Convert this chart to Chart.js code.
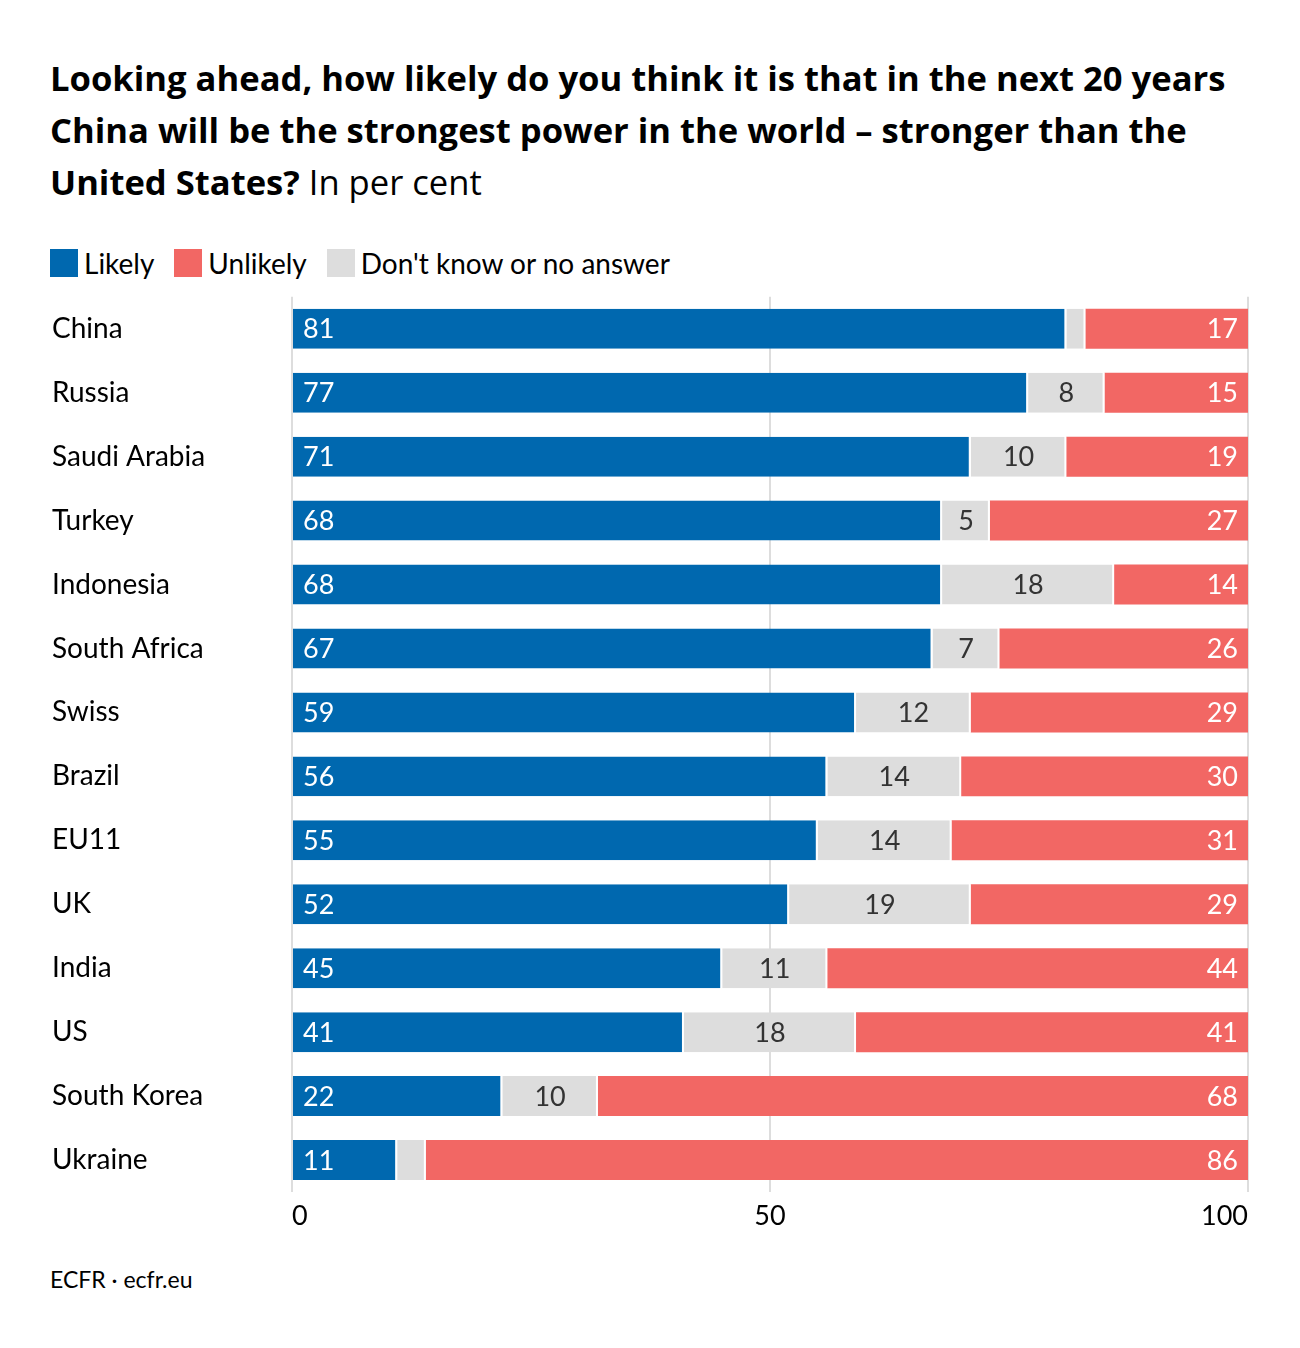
<!DOCTYPE html>
<html>
<head>
<meta charset="utf-8">
<script src="https://cdn.jsdelivr.net/npm/chart.js@4/dist/chart.umd.min.js"></script>
<style>
  body { margin: 0; background: #fff; font-family: Lato, "Open Sans", sans-serif; color: #000; }
  #page { position: relative; width: 1300px; height: 1348px; }
  #title { position: absolute; left: 50px; top: 52px; width: 1240px; font-family: "Open Sans", sans-serif; font-size: 34.6px; line-height: 52px; font-weight: 700; white-space: nowrap; }
  #title span { font-weight: 400; }
  #legend { position: absolute; left: 50px; top: 246px; display: flex; align-items: center; font-size: 28px; }
  #legend .item { display: flex; align-items: center; margin-right: 20px; }
  #legend .box { width: 28px; height: 28px; margin-right: 6px; }
  #wrap { position: absolute; left: 0; top: 280px; width: 1300px; height: 954px; }
  #footer { position: absolute; left: 50px; top: 1265px; font-size: 23px; }
</style>
</head>
<body>
<div id="page">
  <div id="title">Looking ahead, how likely do you think it is that in the next 20 years<br>China will be the strongest power in the world – stronger than the<br>United States? <span>In per cent</span></div>
  <div id="legend"></div>
  <div id="wrap"><canvas id="chart"></canvas></div>
  <div id="footer">ECFR · ecfr.eu</div>
</div>
<script>
const countries = ['China', 'Russia', 'Saudi Arabia', 'Turkey', 'Indonesia', 'South Africa', 'Swiss', 'Brazil', 'EU11', 'UK', 'India', 'US', 'South Korea', 'Ukraine'];
const likely = [81, 77, 71, 68, 68, 67, 59, 56, 55, 52, 45, 41, 22, 11];
const dontKnow = [2, 8, 10, 5, 18, 7, 12, 14, 14, 19, 11, 18, 10, 3];
const unlikely = [17, 15, 19, 27, 14, 26, 29, 30, 31, 29, 44, 41, 68, 86];
const xTicks = [0, 50, 100];

const BLUE = '#0068af';
const RED = '#f26764';
const GREY = '#dddddd';

// legend (order differs from stack order)
const legendItems = [['Likely', BLUE], ['Unlikely', RED], ["Don't know or no answer", GREY]];
const legendEl = document.getElementById('legend');
legendItems.forEach(([label, color]) => {
  const item = document.createElement('div');
  item.className = 'item';
  item.innerHTML = '<div class="box" style="background:' + color + '"></div>' + label;
  legendEl.appendChild(item);
});

// value labels inside the bars
const barLabels = {
  id: 'barLabels',
  afterDatasetsDraw(chart) {
    const ctx = chart.ctx;
    ctx.save();
    ctx.font = '27px Lato, "Open Sans", sans-serif';
    ctx.textBaseline = 'middle';
    chart.data.datasets.forEach((ds, i) => {
      const meta = chart.getDatasetMeta(i);
      meta.data.forEach((bar, j) => {
        const v = ds.data[j];
        if (ds.label === 'Likely') {
          ctx.fillStyle = '#fff';
          ctx.textAlign = 'left';
          ctx.fillText(v, bar.base + 10, bar.y + 1);
        } else if (ds.label === 'Unlikely') {
          ctx.fillStyle = '#fff';
          ctx.textAlign = 'right';
          ctx.fillText(v, bar.x - 10, bar.y + 1);
        } else if (v >= 4) {
          ctx.fillStyle = '#333';
          ctx.textAlign = 'center';
          ctx.fillText(v, (bar.x + bar.base) / 2, bar.y + 1);
        }
      });
    });
    ctx.restore();
  }
};

const seg = { borderColor: '#fff', borderSkipped: false, barPercentage: 0.625, categoryPercentage: 1 };

new Chart(document.getElementById('chart'), {
  type: 'bar',
  data: {
    labels: countries,
    datasets: [
      Object.assign({ label: 'Likely', data: likely, backgroundColor: BLUE, borderWidth: { left: 0, right: 2, top: 0, bottom: 0 } }, seg),
      Object.assign({ label: "Don't know", data: dontKnow, backgroundColor: GREY, borderWidth: { left: 0, right: 2, top: 0, bottom: 0 } }, seg),
      Object.assign({ label: 'Unlikely', data: unlikely, backgroundColor: RED, borderWidth: 0 }, seg)
    ]
  },
  options: {
    indexAxis: 'y',
    responsive: true,
    maintainAspectRatio: false,
    animation: false,
    layout: { padding: { left: 52, right: 52, top: 6, bottom: 0 } },
    plugins: { legend: { display: false }, tooltip: { enabled: false } },
    scales: {
      x: {
        stacked: true,
        min: 0,
        max: 100,
        afterBuildTicks: (scale) => { scale.ticks = xTicks.map(v => ({ value: v })); },
        afterFit: (scale) => { scale.height = 42; },
        grid: { color: '#dddddd', lineWidth: 2, drawTicks: false },
        border: { display: false },
        ticks: { color: '#000', font: { family: 'Lato', size: 27 }, padding: 8, maxRotation: 0, align: 'inner' }
      },
      y: {
        stacked: true,
        grid: { display: false },
        border: { display: false },
        afterFit: (scale) => { scale.width = 240; },
        ticks: { color: '#000', font: { family: 'Lato', size: 28 }, crossAlign: 'far', padding: 0 }
      }
    }
  },
  plugins: [barLabels]
});
</script>
</body>
</html>
